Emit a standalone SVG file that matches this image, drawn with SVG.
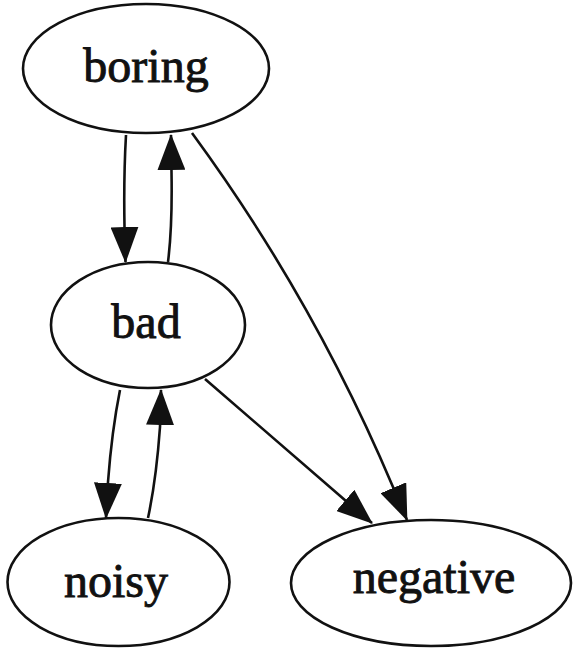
<svg xmlns="http://www.w3.org/2000/svg" width="573" height="650" viewBox="0 0 573 650">
<style>
.node ellipse{fill:#fff;stroke:#111;stroke-width:2.6}
.node text{font-family:"Liberation Serif","Times New Roman",serif;font-size:48px;fill:#111;stroke:#111;stroke-width:0.9;text-anchor:middle}
.edge path{fill:none;stroke:#111;stroke-width:2.6}
</style>
<defs>
<marker id="arr" markerUnits="userSpaceOnUse" markerWidth="36" markerHeight="28" viewBox="0 0 36 28" refX="35" refY="14" orient="auto">
<path d="M0,0 L36,14 L0,28 Z" fill="#111"/>
</marker>
</defs>
<rect width="573" height="650" fill="#fff"/>
<g id="edges" class="edge">
<path d="M126,135 C124,170 124,200 124.5,227 L125.5,262" marker-end="url(#arr)"/>
<path d="M168,262 C172,230 172,200 171.5,172 L171,135" marker-end="url(#arr)"/>
<path d="M192,133 Q313,298 393,487 L407,520" marker-end="url(#arr)"/>
<path d="M205,379 L346,501 L372,523" marker-end="url(#arr)"/>
<path d="M120,390 C114,420 110,455 108,482 L106,518" marker-end="url(#arr)"/>
<path d="M148,518 C154,490 158,455 160,427 L161,390" marker-end="url(#arr)"/>
</g>
<g id="boring" class="node"><ellipse cx="146" cy="68.5" rx="123" ry="64.5"/><text x="146" y="82">boring</text></g>
<g id="bad" class="node"><ellipse cx="148" cy="325" rx="97" ry="63"/><text x="146" y="338">bad</text></g>
<g id="noisy" class="node"><ellipse cx="118.5" cy="582" rx="111" ry="64"/><text x="116" y="597">noisy</text></g>
<g id="negative" class="node"><ellipse cx="431" cy="583" rx="140" ry="63"/><text x="434" y="593">negative</text></g>
</svg>
